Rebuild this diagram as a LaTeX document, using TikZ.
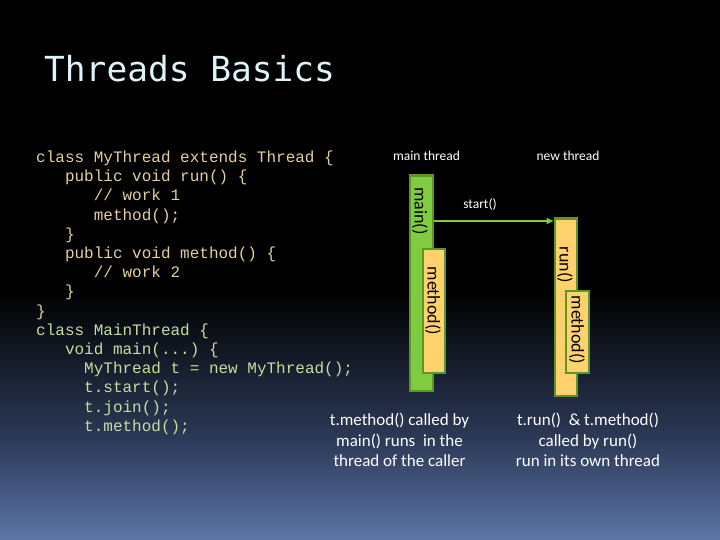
\documentclass[tikz,border=0pt]{standalone}
\usepackage{fontspec}
\setmainfont{Carlito}
\setmonofont{Liberation Mono}
\newfontfamily\titlefont{DejaVu Sans Mono}
\usetikzlibrary{arrows.meta, positioning}
\definecolor{thrtitle}{RGB}{220, 244, 250}
\definecolor{codetan}{RGB}{228, 206, 158}
\definecolor{codegreen}{RGB}{196, 222, 160}
\definecolor{bargreen}{RGB}{128, 204, 64}
\definecolor{barorange}{RGB}{255, 210, 110}
\definecolor{barline}{RGB}{92, 150, 40}
\definecolor{bgmid}{RGB}{45, 58, 88}
\definecolor{bgbottom}{RGB}{92, 118, 168}

\begin{document}
\begin{tikzpicture}[x=1pt, y=-1pt,
    codeline/.style={anchor=base west, inner sep=0pt,
                     font=\ttfamily\fontsize{16}{19}\selectfont},
    lane/.style={white, anchor=base, inner sep=0pt,
                 font=\fontsize{13.5}{16}\selectfont},
    activation/.style={draw=barline, line width=2.5pt, anchor=north west,
                       inner sep=0pt},
    barlabel/.style={rotate=-90, inner sep=0pt,
                     font=\fontsize{18}{20}\selectfont},
    note/.style={white, align=center, inner sep=0pt,
                 font=\fontsize{17}{20.5}\selectfont},
    callarrow/.style={draw=bargreen, line width=1.8pt,
                      -{Triangle[length=7pt, width=6pt]}}]
    % slide background
    \useasboundingbox (0,0) rectangle (720,540);
    \fill[black] (0,0) rectangle (720,291);
    \shade[top color=black, bottom color=bgmid] (0,290) rectangle (720,441);
    \shade[top color=bgmid, bottom color=bgbottom] (0,440) rectangle (720,540);

    \node[anchor=base west, inner sep=0pt, text=thrtitle,
          font=\titlefont\fontsize{34.5}{40}\selectfont] (title)
      at (44,82) {Threads Basics};

    % source code
    \node[codeline, codetan] (code1) at (36,162.5) {class MyThread extends Thread \{};
    \node[codeline, codetan] (code2) at (64.8,181.7) {public void run() \{};
    \node[codeline, codetan] (code3) at (93.6,200.9) {// work 1};
    \node[codeline, codetan] (code4) at (93.6,220.1) {method();};
    \node[codeline, codetan] (code5) at (64.8,239.3) {\}};
    \node[codeline, codetan] (code6) at (64.8,258.5) {public void method() \{};
    \node[codeline, codetan] (code7) at (93.6,277.7) {// work 2};
    \node[codeline, codetan] (code8) at (64.8,296.9) {\}};
    \node[codeline, codetan] (code9) at (36,316.1) {\}};
    \node[codeline, codegreen] (code10) at (36,335.3) {class MainThread \{};
    \node[codeline, codegreen] (code11) at (64.8,354.5) {void main(...) \{};
    \node[codeline, codegreen] (code12) at (84,373.7) {MyThread t = new MyThread();};
    \node[codeline, codegreen] (code13) at (84,392.9) {t.start();};
    \node[codeline, codegreen] (code14) at (84,412.1) {t.join();};
    \node[codeline, codegreen] (code15) at (84,431.3) {t.method();};

    % the two threads
    \node[lane] (mainlane) at (426.5,160.7) {main thread};
    \node[lane] (newlane) at (568,160.7) {new thread};

    \node[activation, fill=bargreen, minimum width=23pt, minimum height=215pt]
      (mainbar) at (408.5,174.5) {};
    \node[barlabel] (mainlbl) at (420,211) {main()};
    \node[activation, fill=barorange, minimum width=22pt, minimum height=124pt]
      (mainmeth) at (421.5,247.5) {};
    \node[barlabel] (mainmethlbl) at (433,301) {method()};

    \node[activation, fill=barorange, minimum width=22pt, minimum height=177pt]
      (runbar) at (553.5,217.5) {};
    \node[barlabel] (runlbl) at (565,265) {run()};
    \node[activation, fill=barorange, minimum width=23pt, minimum height=82pt]
      (runmeth) at (564.5,289.5) {};
    \node[barlabel] (runmethlbl) at (577,330) {method()};

    \coordinate (forkpt) at (0,221);
    \draw[callarrow] (mainbar.east |- forkpt) -- (runbar.west |- forkpt);
    \node[lane] (startlbl) at (480,208.3) {start()};

    % remarks
    \node[note] (callernote) at (399.5,440)
      {t.method() called by\\ main() runs\ \ in the\\ thread of the caller};
    \node[note] (ownnote) at (588,440)
      {t.run()\ \ \& t.method()\\ called by run()\\ run in its own thread};
  \end{tikzpicture}
\end{document}
